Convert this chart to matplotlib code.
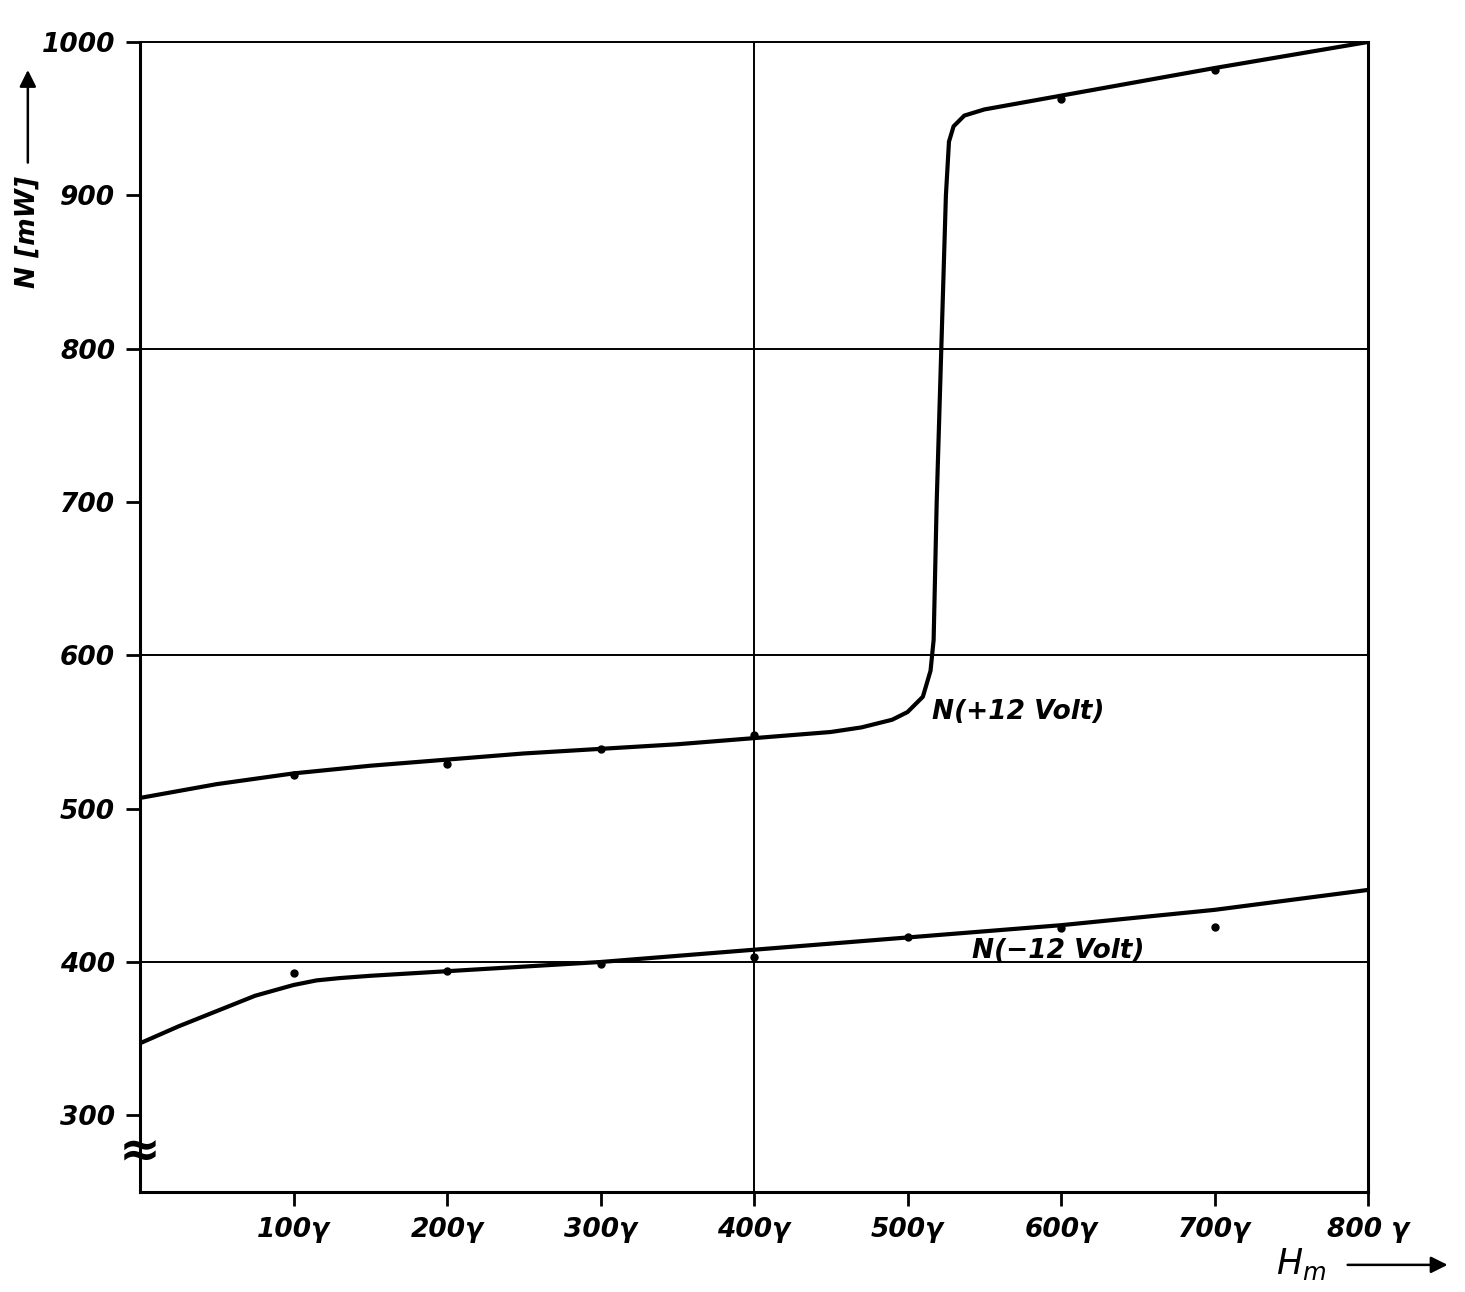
import matplotlib
matplotlib.use("Agg")
import matplotlib.pyplot as plt

# N(+12 Volt) curve
hp_x = [0, 50, 100, 150, 200, 250, 300, 350, 400, 450, 470, 490, 500, 510, 515,
        517, 519, 522, 525, 527, 530, 537, 550, 600, 700, 800]
hp_y = [507, 516, 523, 528, 532, 536, 539, 542, 546, 550, 553, 558, 563, 573, 590,
        610, 700, 800, 900, 935, 945, 952, 956, 965, 983, 1000]
# measured points N(+12 Volt)
hp_px = [100, 200, 300, 400, 600, 700]
hp_py = [522, 529, 539, 548, 963, 982]

# N(-12 Volt) curve
hm_x = [0, 25, 50, 75, 100, 115, 130, 150, 200, 300, 400, 500, 600, 700, 800]
hm_y = [347, 358, 368, 378, 385, 388, 389.5, 391, 394, 400, 408, 416, 424, 434, 447]
hm_px = [100, 200, 300, 400, 500, 600, 700]
hm_py = [393, 394, 399, 403, 416, 422, 423]

x_ticks = [100, 200, 300, 400, 500, 600, 700, 800]
x_labels = ["100γ", "200γ", "300γ", "400γ", "500γ", "600γ", "700γ", "800 γ"]
y_ticks = [300, 400, 500, 600, 700, 800, 900, 1000]
grid_y = [400, 600, 800]

fnt = dict(family="DejaVu Sans", style="italic", fontweight="bold", fontsize=19)

fig = plt.figure(figsize=(14.65, 12.92), dpi=100)
ax = fig.add_axes([0.0956, 0.0774, 0.8382, 0.8901])
ax.set_xlim(0, 800)
ax.set_ylim(250, 1000)

# grid (horizontal every 200, vertical at 400)
for g in grid_y:
    ax.axhline(g, color="black", lw=1.4, zorder=1)
ax.axvline(400, color="black", lw=1.4, zorder=1)

ax.plot(hp_x, hp_y, color="black", lw=3, zorder=3)
ax.plot(hm_x, hm_y, color="black", lw=3, zorder=3)
ax.plot(hp_px, hp_py, "o", color="black", ms=5, zorder=4)
ax.plot(hm_px, hm_py, "o", color="black", ms=5, zorder=4)

ax.text(516, 563, "N(+12 Volt)", ha="left", va="center", **fnt)
ax.text(542, 407, "N(\u221212 Volt)", ha="left", va="center", **fnt)

for side in ["left", "bottom", "right"]:
    ax.spines[side].set_linewidth(2.2)
ax.spines["top"].set_linewidth(1.4)

ax.set_xticks(x_ticks)
ax.set_xticklabels(x_labels, **fnt)
ax.set_yticks(y_ticks)
ax.set_yticklabels([str(v) for v in y_ticks], **fnt)
ax.tick_params(axis="both", direction="out", length=10, width=2, pad=8)

# axis break mark
ax.text(0, 276, "≈", ha="center", va="center", fontsize=36, fontweight="bold",
        color="black", zorder=6, clip_on=False)

# axis titles with arrows
fig.text(0.019, 0.82, "N [mW]", rotation=90, ha="center", va="center", **fnt)
ax.annotate("", xy=(0.019, 0.948), xytext=(0.019, 0.872), xycoords="figure fraction",
            arrowprops=dict(arrowstyle="-|>", color="black", lw=1.8, mutation_scale=25))
fig.text(0.888, 0.022, "$\\mathit{H_m}$", ha="center", va="center", fontsize=25)
ax.annotate("", xy=(0.99, 0.021), xytext=(0.918, 0.021), xycoords="figure fraction",
            arrowprops=dict(arrowstyle="-|>", color="black", lw=1.8, mutation_scale=25))

fig.savefig("out.png", dpi=100, facecolor="white")
